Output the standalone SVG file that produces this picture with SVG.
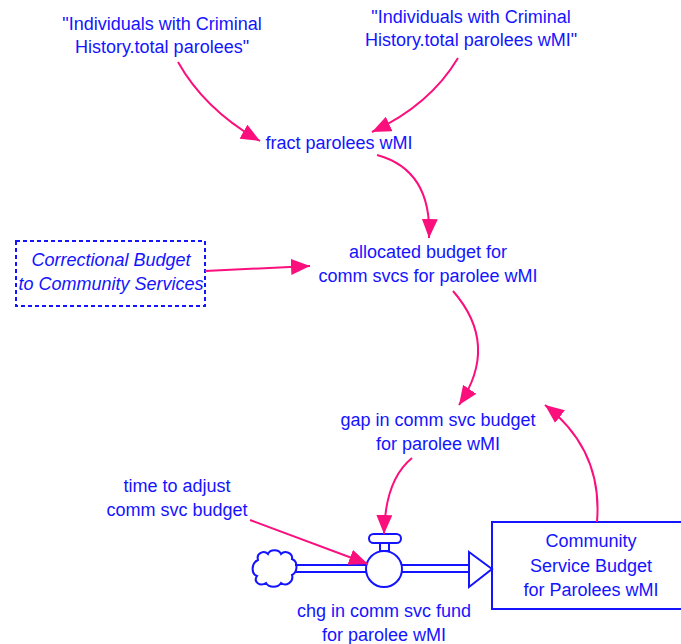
<svg xmlns="http://www.w3.org/2000/svg" width="681" height="644" viewBox="0 0 681 644">
  <style>
    .lbl { font-family: "Liberation Sans", Arial, sans-serif; font-size: 18px; fill: #1414ff; text-anchor: middle; }
    .ital { font-style: italic; }
    .link { fill: none; stroke: #fa0f7d; stroke-width: 2; }
    .shape { fill: #ffffff; stroke: #1414ff; stroke-width: 2; }
  </style>
  <defs>
    <marker id="head" markerUnits="userSpaceOnUse" markerWidth="20" markerHeight="16" refX="19" refY="8" orient="auto">
      <path d="M0,0 L19,8 L0,16 Z" fill="#fa0f7d"/>
    </marker>
  </defs>

  <!-- auxiliaries -->
  <g id="total-parolees">
    <text class="lbl" x="162" y="30">"Individuals with Criminal</text>
    <text class="lbl" x="162" y="53">History.total parolees"</text>
  </g>
  <g id="total-parolees-wmi">
    <text class="lbl" x="471" y="23">"Individuals with Criminal</text>
    <text class="lbl" x="471" y="46">History.total parolees wMI"</text>
  </g>
  <g id="fract-parolees">
    <text class="lbl" x="339" y="149">fract parolees wMI</text>
  </g>
  <g id="allocated-budget">
    <text class="lbl" x="428" y="258">allocated budget for</text>
    <text class="lbl" x="428" y="282">comm svcs for parolee wMI</text>
  </g>
  <g id="correctional-budget">
    <rect x="16" y="241" width="189" height="65" fill="none" stroke="#1414ff" stroke-width="2" stroke-dasharray="4 3"/>
    <text class="lbl ital" x="111" y="266">Correctional Budget</text>
    <text class="lbl ital" x="111" y="290">to Community Services</text>
  </g>
  <g id="gap-budget">
    <text class="lbl" x="438" y="426">gap in comm svc budget</text>
    <text class="lbl" x="438" y="450">for parolee wMI</text>
  </g>
  <g id="time-to-adjust">
    <text class="lbl" x="177" y="492">time to adjust</text>
    <text class="lbl" x="177" y="516">comm svc budget</text>
  </g>

  <!-- stock -->
  <g id="community-service-budget">
    <rect class="shape" x="492" y="522" width="200" height="87"/>
    <text class="lbl" x="591" y="547">Community</text>
    <text class="lbl" x="591" y="572">Service Budget</text>
    <text class="lbl" x="591" y="596">for Parolees wMI</text>
  </g>

  <!-- flow with source cloud and valve -->
  <g id="chg-fund">
    <path class="shape" d="M258,560 C256,553 264,550 268,554 C270,549 279,549 281,554 C285,550 293,553 292,559 C298,561 298,572 292,575 C294,582 286,587 281,583 C278,588 269,588 266,583 C260,587 253,582 257,576 C251,574 251,563 258,560 Z"/>
    <line x1="295" y1="565" x2="366" y2="565" stroke="#1414ff" stroke-width="2"/>
    <line x1="295" y1="572" x2="366" y2="572" stroke="#1414ff" stroke-width="2"/>
    <line x1="402" y1="565" x2="470" y2="565" stroke="#1414ff" stroke-width="2"/>
    <line x1="402" y1="572" x2="470" y2="572" stroke="#1414ff" stroke-width="2"/>
    <path class="shape" d="M469,552 L492,569 L469,587 Z"/>
    <rect class="shape" x="380" y="543" width="9" height="8"/>
    <rect class="shape" x="369" y="534" width="32" height="9" rx="4.5"/>
    <circle class="shape" cx="384" cy="569" r="18"/>
    <text class="lbl" x="384" y="617">chg in comm svc fund</text>
    <text class="lbl" x="384" y="641">for parolee wMI</text>
  </g>

  <!-- influence links -->
  <g id="links">
    <path class="link" marker-end="url(#head)" d="M178,62 Q205,110 260,141"/>
    <path class="link" marker-end="url(#head)" d="M458,58 Q430,105 372,132"/>
    <path class="link" marker-end="url(#head)" d="M377,155 Q432,170 429,238"/>
    <path class="link" marker-end="url(#head)" d="M205,271 L310,266"/>
    <path class="link" marker-end="url(#head)" d="M453,291 Q500,345 459,405"/>
    <path class="link" marker-end="url(#head)" d="M597,522 Q603,450 545,405"/>
    <path class="link" marker-end="url(#head)" d="M412,458 Q385,480 384,534"/>
    <path class="link" marker-end="url(#head)" d="M250,520 L368,564"/>
  </g>
</svg>
